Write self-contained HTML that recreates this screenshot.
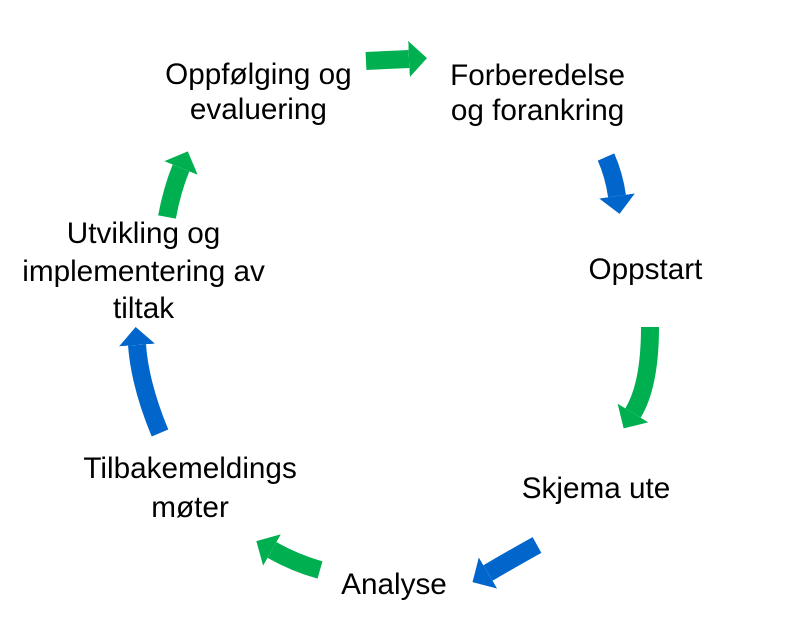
<!DOCTYPE html>
<html><head><meta charset="utf-8"><style>
html,body{margin:0;padding:0;background:#fff;}
svg{display:block;}
text{font-family:"Liberation Sans",sans-serif;font-size:30px;fill:#000;text-anchor:middle;}
</style></head><body>
<svg width="799" height="620" viewBox="0 0 799 620" xmlns="http://www.w3.org/2000/svg">
<defs>
<marker id="hg" viewBox="0 0 10 10" refX="0" refY="5" markerWidth="1.0" markerHeight="2.0" markerUnits="strokeWidth" orient="auto" preserveAspectRatio="none"><path d="M0,0L10,5L0,10z" fill="#00B050"/></marker>
<marker id="hb" viewBox="0 0 10 10" refX="0" refY="5" markerWidth="1.0" markerHeight="2.0" markerUnits="strokeWidth" orient="auto" preserveAspectRatio="none"><path d="M0,0L10,5L0,10z" fill="#0066CC"/></marker>
</defs>
<g fill="none" stroke-width="18">
<path d="M366,61 L409,59" stroke="#00B050" marker-end="url(#hg)"/>
<path d="M606,157 Q614,175 617,196" stroke="#0066CC" marker-end="url(#hb)"/>
<path d="M650,327 Q650,385 633,413" stroke="#00B050" marker-end="url(#hg)"/>
<path d="M537,545 Q510,560 488,573" stroke="#0066CC" marker-end="url(#hb)"/>
<path d="M320,570 Q295,563 272,550" stroke="#00B050" marker-end="url(#hg)"/>
<path d="M160,433 Q140,385 137,345" stroke="#0066CC" marker-end="url(#hb)"/>
<path d="M167,217 Q172,190 181,168" stroke="#00B050" marker-end="url(#hg)"/>
</g>
<g transform="scale(0.99,1)">
<text x="261" y="84">Oppfølging og</text>
<text x="261" y="119">evaluering</text>
<text x="543" y="85">Forberedelse</text>
<text x="543" y="120">og forankring</text>
<text x="652" y="279">Oppstart</text>
<text x="602" y="498">Skjema ute</text>
<text x="398" y="594">Analyse</text>
<text x="192" y="478">Tilbakemeldings</text>
<text x="192" y="517">møter</text>
<text x="145" y="243">Utvikling og</text>
<text x="145" y="281">implementering av</text>
<text x="145" y="318">tiltak</text>
</g>
</svg>
</body></html>
